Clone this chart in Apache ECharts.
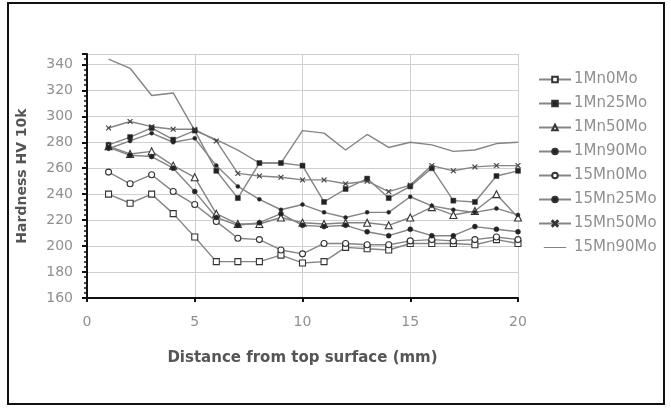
<!DOCTYPE html>
<html>
<head>
<meta charset="utf-8">
<script src="https://cdn.jsdelivr.net/npm/echarts@6/dist/echarts.min.js"></script>
<style>
html,body{margin:0;padding:0;background:#fff;}
#c{width:671px;height:409px;}
</style>
</head>
<body>
<div id="c"></div>
<script>
var distances = [1,2,3,4,5,6,7,8,9,10,11,12,13,14,15,16,17,18,19,20];
var seriesNames = ['1Mn0Mo','1Mn25Mo','1Mn50Mo','1Mn90Mo','15Mn0Mo','15Mn25Mo','15Mn50Mo','15Mn90Mo'];
var s1Mn0Mo   = [240,233,240,225,207,188,188,188,193,187,188,199,198,197,202,202,202,201,205,202];
var s1Mn25Mo  = [278,284,291,282,289,258,237,264,264,262,234,244,252,237,246,260,235,234,254,258];
var s1Mn50Mo  = [277,271,273,262,253,225,217,217,222,218,217,218,218,216,222,230,224,227,240,222];
var s1Mn90Mo  = [275,281,287,280,283,262,246,236,228,232,226,222,226,226,238,231,228,226,229,224];
var s15Mn0Mo  = [257,248,255,242,232,219,206,205,197,194,202,202,201,201,204,205,204,205,207,205];
var s15Mn25Mo = [276,270,269,260,242,222,216,218,225,216,215,216,211,208,213,208,208,215,213,211];
var s15Mn50Mo = [291,296,292,290,290,281,256,254,253,251,251,248,250,242,247,262,258,261,262,262];
var s15Mn90Mo = [344,337,316,318,289,282,274,264,264,289,287,274,286,276,280,278,273,274,279,280];
var yTicks = [160,180,200,220,240,260,280,300,320,340];
var xTicks = [0,5,10,15,20];

var allData = [s1Mn0Mo,s1Mn25Mo,s1Mn50Mo,s1Mn90Mo,s15Mn0Mo,s15Mn25Mo,s15Mn50Mo,s15Mn90Mo];
var xPath = 'path://M0,1L1,0L5,4L9,0L10,1L6,5L10,9L9,10L5,6L1,10L0,9L4,5Z';
var barPath = 'path://M0,0L0.01,0L0,0.01ZM0,10L0.01,10L0,9.99ZM0,4.3L32,4.3L32,5.7L0,5.7Z';
var styles = [
  {symbol:'rect', size:6, fill:'#fff'},
  {symbol:'rect', size:5, fill:'#222'},
  {symbol:'triangle', size:7, fill:'#fff'},
  {symbol:'circle', size:4, fill:'#222'},
  {symbol:'circle', size:6, fill:'#fff'},
  {symbol:'circle', size:5, fill:'#222'},
  {symbol:xPath, size:5, fill:'#444'},
  {symbol:'none', size:0, fill:'#858585'}
];
var series = seriesNames.map(function(n,i){
  var st = styles[i];
  return {
    name:n, type:'line',
    data: distances.map(function(d,j){return [d, allData[i][j]];}),
    symbol: st.symbol, symbolSize: st.size, showSymbol: st.symbol!=='none',
    lineStyle:{color:'#858585', width:1.4},
    itemStyle:{color: st.fill, borderColor:'#333',
      borderWidth: st.symbol==='none' ? 0 : (st.fill==='#fff'?1.1:0.5)},
    emphasis:{disabled:true},
    animation:false
  };
});

var legendData = seriesNames.map(function(n,i){
  return styles[i].symbol==='none' ? {name:n, icon:barPath} : {name:n};
});

var chart = echarts.init(document.getElementById('c'), null, {renderer:'canvas'});
chart.setOption({
  backgroundColor:'#fff',
  animation:false,
  grid:{left:87, right:153, top:54, bottom:111},
  xAxis:{
    type:'value', min:0, max:20, interval:5,
    axisLine:{lineStyle:{color:'#111', width:2}},
    axisTick:{show:true, length:4, lineStyle:{color:'#111', width:2}},
    axisLabel:{color:'#909090', fontFamily:'DejaVu Sans', fontSize:14, margin:17,
      formatter:function(v){return xTicks.indexOf(v)>=0? String(v):'';}},
    splitLine:{show:true, lineStyle:{color:'#cfcfcf', width:1}},
    name:'Distance from top surface (mm)', nameLocation:'middle', nameGap:53,
    nameTextStyle:{color:'#555', fontFamily:'DejaVu Sans', fontWeight:'bold', fontSize:15}
  },
  yAxis:{
    type:'value', min:160, max:348, interval:20,
    axisLine:{show:true, lineStyle:{color:'#111', width:2}},
    axisTick:{show:true, length:5, lineStyle:{color:'#111', width:2}},
    minorTick:{show:true, splitNumber:5, length:3, lineStyle:{color:'#111', width:1.5}},
    axisLabel:{color:'#909090', fontFamily:'DejaVu Sans', fontSize:14, margin:14, showMaxLabel:false,
      formatter:function(v){return yTicks.indexOf(v)>=0? String(v):'';}},
    splitLine:{show:true, lineStyle:{color:'#cfcfcf', width:1.2}},
    name:'Hardness HV 10k', nameLocation:'middle', nameGap:58, nameRotate:90,
    nameTextStyle:{color:'#555', fontFamily:'DejaVu Sans', fontWeight:'bold', fontSize:14}
  },
  legend:{
    orient:'vertical', left:533, top:67, itemWidth:32, itemHeight:7, itemGap:9,
    textStyle:{color:'#909090', fontFamily:'DejaVu Sans', fontSize:15, padding:[0,0,0,-2]},
    data: legendData
  },
  graphic:[{
    type:'rect', shape:{x:8, y:3, width:656, height:401},
    style:{fill:'none', stroke:'#111', lineWidth:2}, silent:true, z:100
  }],
  series: series
});
</script>
</body>
</html>
